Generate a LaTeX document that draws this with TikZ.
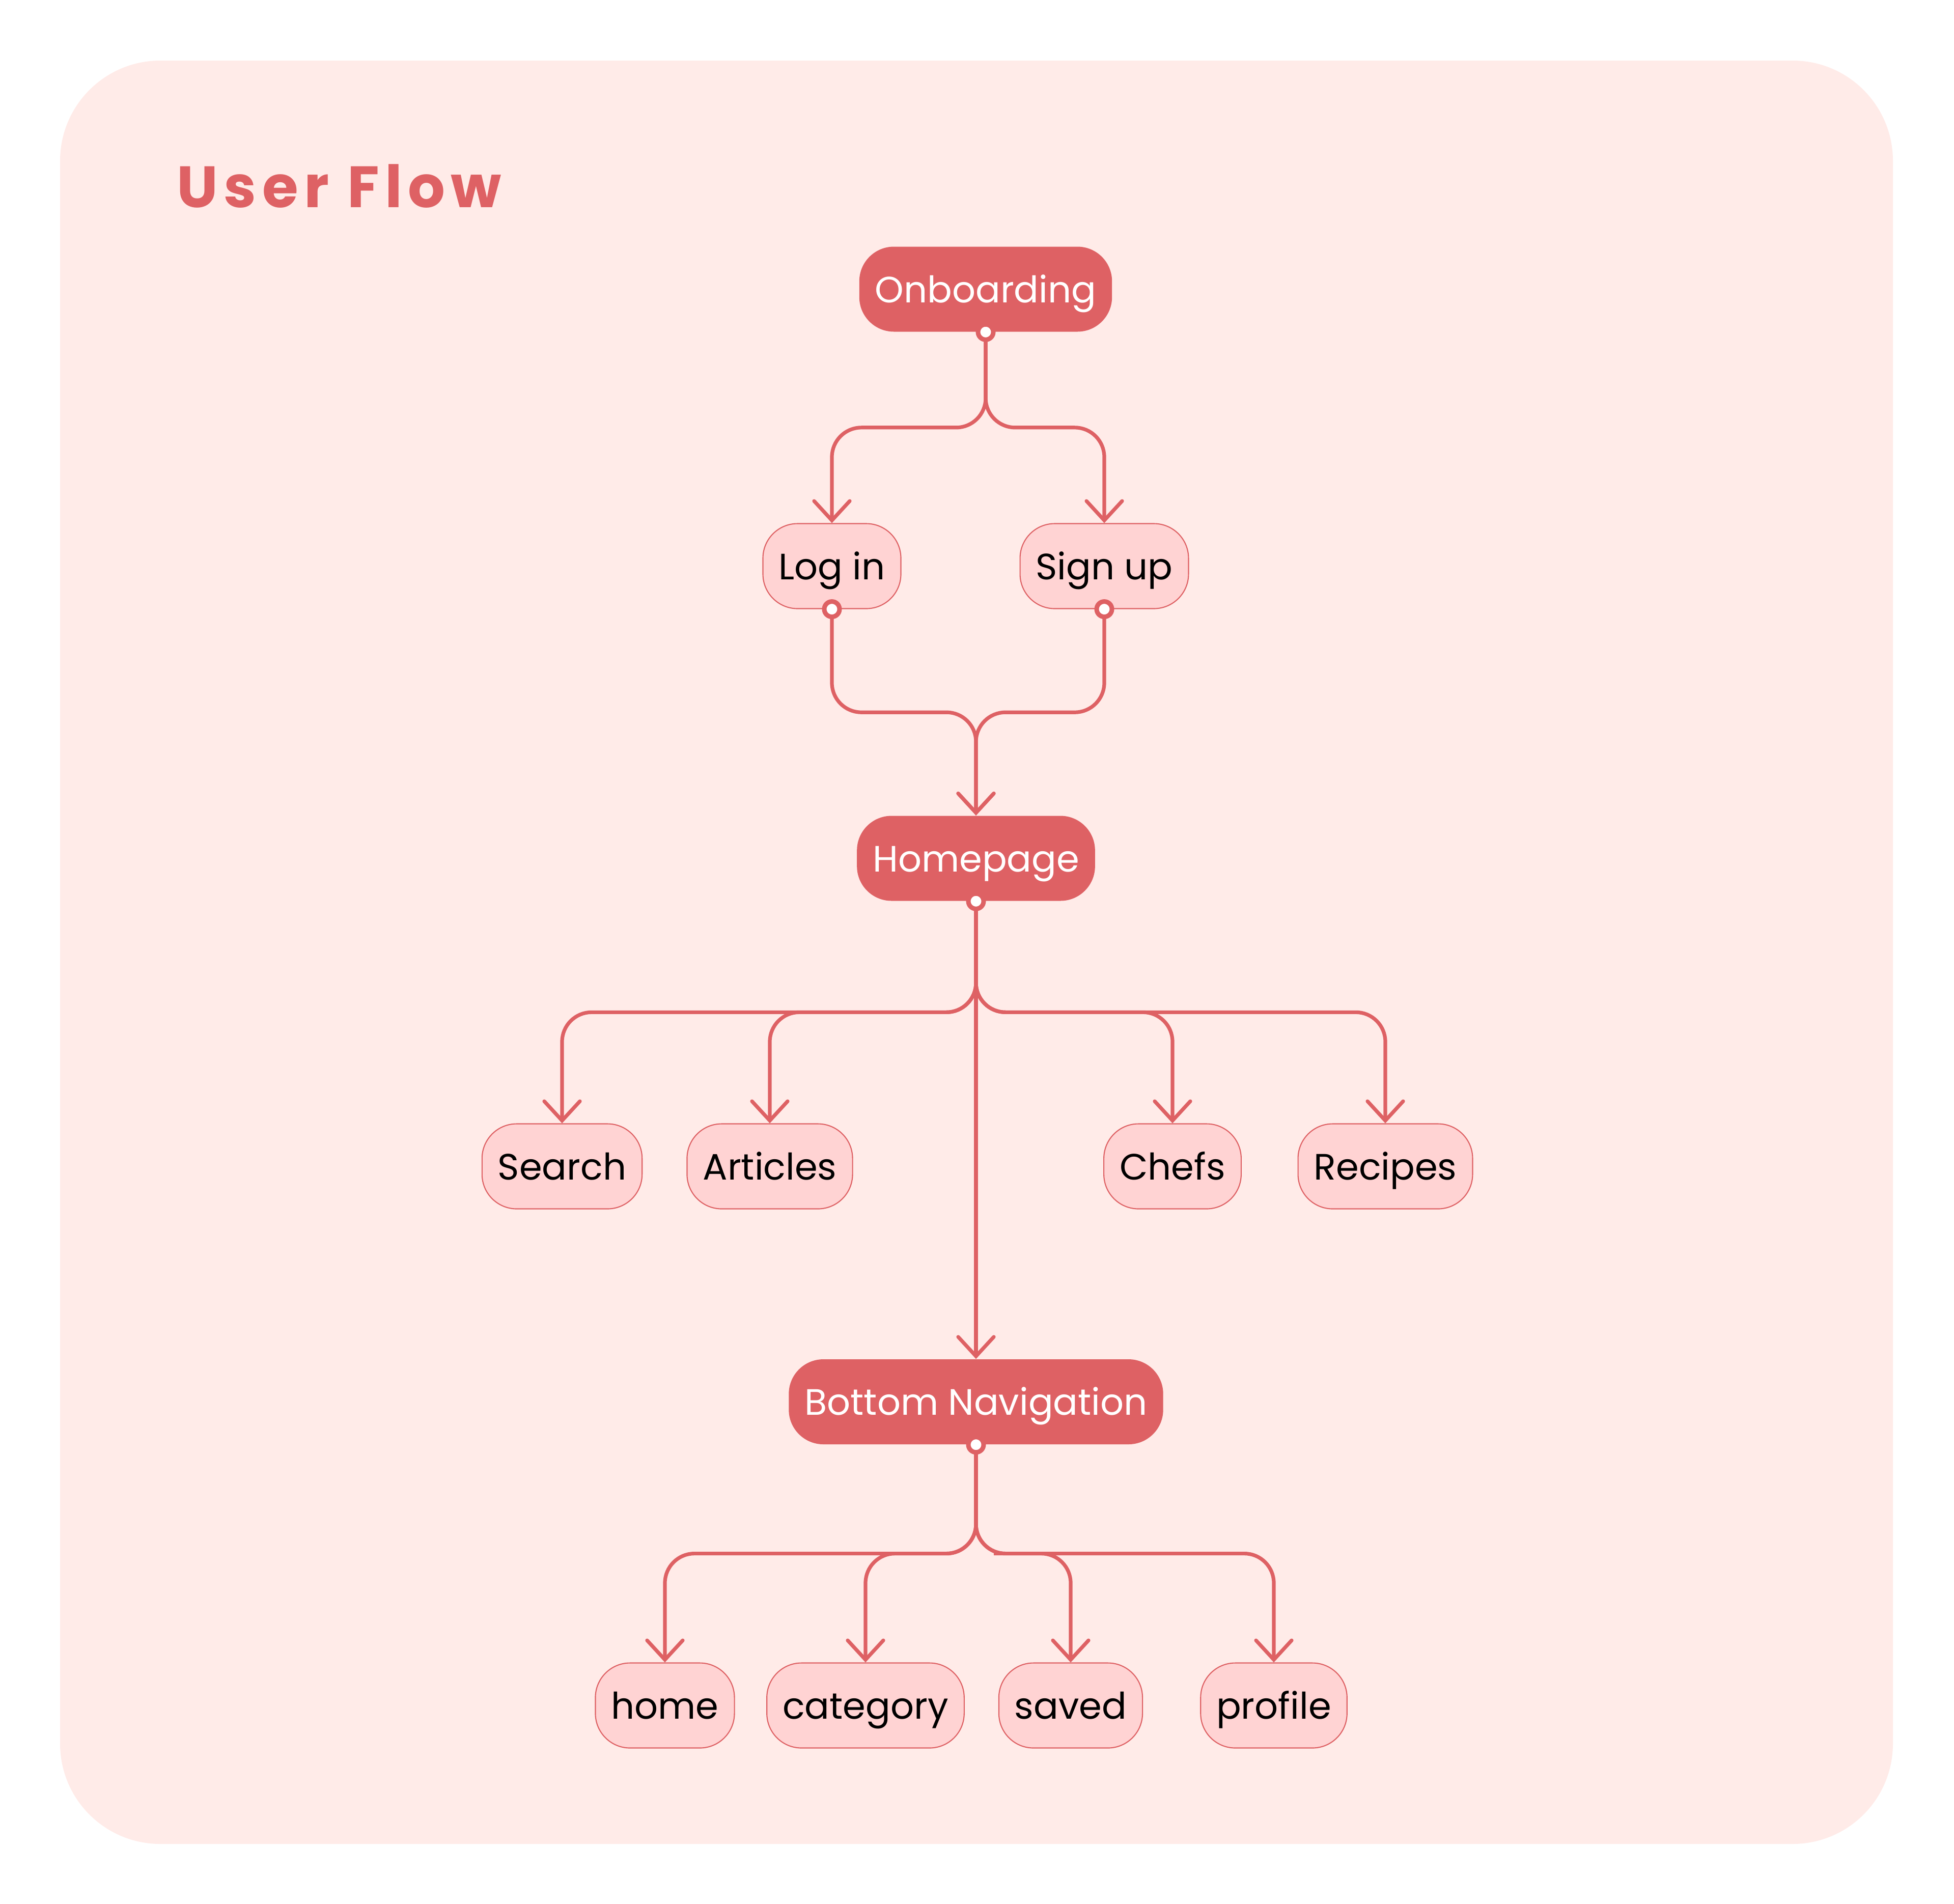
\documentclass[tikz,border=0pt]{standalone}
\usepackage{fontspec}
\setmainfont{Poppins}
\newfontfamily\titlefont{Poppins}[LetterSpace=10]
\usetikzlibrary{positioning,calc,arrows.meta}
\definecolor{flowred}{HTML}{DE6164}
\definecolor{pagebg}{HTML}{FFEBE8}
\definecolor{leafpink}{HTML}{FFD3D3}

\begin{document}
\begin{tikzpicture}[on grid,
  main/.style={rectangle, rounded corners=0.68cm, fill=flowred, text=white, minimum height=1.67cm, inner xsep=0.31cm, text height=0.52cm, text depth=0cm, font=\fontsize{20.5}{25}\selectfont},
  leaf/.style={main, fill=leafpink, draw=flowred, line width=0.6pt, text=black},
  flow/.style={draw=flowred, line width=0.072cm, rounded corners=0.58cm, -{Straight Barb[length=0.38cm,width=0.7cm,line cap=round]}},
  every edge/.append style={flow},
  fork/.style={to path={|- ($(\tikztostart)!.5!(\tikztotarget)$) -| (\tikztotarget)}},
  port/.style={draw=flowred, fill=white, line width=0.09cm}]
\useasboundingbox (0,0) rectangle (38.38,-37.40);
\fill[pagebg, rounded corners=1.97cm] (1.18,-1.19) rectangle (37.18,-36.22);
\node[anchor=base west, inner sep=0, text=flowred, font=\titlefont\bfseries\fontsize{32.6}{36}\selectfont] (title) at (3.47,-4.07) {User Flow};

\node[main] (onb) at (19.36,-5.68) {Onboarding};
\node[leaf, below left=5.44cm and 3.02cm of onb] (login) {Log in};
\node[leaf, right=5.35cm of login] (signup) {Sign up};
\node[main] (homep) at (19.17,-16.86) {Homepage};
\node[leaf, below left=6.05cm and 8.13cm of homep] (search) {Search};
\node[leaf, right=4.08cm of search] (articles) {Articles};
\node[leaf, right=7.91cm of articles] (chefs) {Chefs};
\node[leaf, right=4.18cm of chefs] (recipes) {Recipes};
\node[main, below=10.675cm of homep] (botnav) {Bottom Navigation};
\node[leaf, below left=5.965cm and 6.11cm of botnav] (home) {home};
\node[leaf, right=3.94cm of home] (category) {category};
\node[leaf, right=4.03cm of category] (saved) {saved};
\node[leaf, right=3.99cm of saved] (profile) {profile};

\path
	(onb.south) edge[fork] (login.north)
	(onb.south) edge[fork] (signup.north)
	(login.south) edge[fork] (homep.north)
	(signup.south) edge[fork] (homep.north)
	(homep.south) edge[fork] (search.north)
	(homep.south) edge[fork] (articles.north)
	(homep.south) edge[fork] (chefs.north)
	(homep.south) edge[fork] (recipes.north)
	(homep.south) edge (botnav.north)
	(botnav.south) edge[fork] (home.north)
	(botnav.south) edge[fork] (category.north)
	(botnav.south) edge[fork] (saved.north)
	(botnav.south) edge[fork] (profile.north)
; %-path-%
\foreach \n in {onb,login,signup,homep,botnav}
	\draw[port] (\n.south) circle[radius=0.15cm];
\end{tikzpicture}
\end{document}
